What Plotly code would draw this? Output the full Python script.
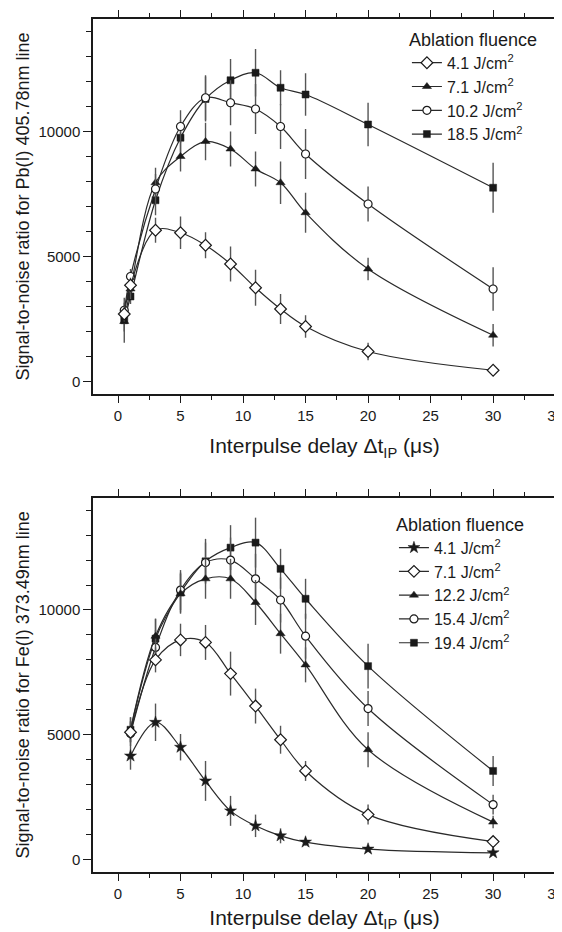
import plotly.graph_objects as go

# ---------------- data: Pb(I) 405.78 nm ----------------
x_pb = [0.5, 1, 3, 5, 7, 9, 11, 13, 15, 20, 30]
pb_41 = [2700, 3850, 6050, 5950, 5450, 4700, 3750, 2900, 2200, 1200, 450]
pb_41_err = [300, 300, 500, 650, 520, 700, 720, 600, 450, 350, 150]
pb_71 = [2400, 3700, 7950, 9000, 9600, 9300, 8500, 7950, 6750, 4500, 1850]
pb_71_err = [400, 400, 600, 600, 750, 700, 700, 850, 800, 450, 450]
pb_102 = [2850, 4200, 7700, 10200, 11350, 11150, 10900, 10200, 9100, 7100, 3700]
pb_102_err = [300, 300, 600, 650, 900, 900, 1000, 900, 1000, 700, 870]
pb_185 = [2450, 3400, 7250, 9750, 11300, 12050, 12350, 11750, 11480, 10280, 7750]
pb_185_err = [900, 300, 600, 700, 900, 850, 950, 700, 850, 870, 1000]
pb_labels = ["4.1 J/cm<sup>2</sup>", "7.1 J/cm<sup>2</sup>", "10.2 J/cm<sup>2</sup>", "18.5 J/cm<sup>2</sup>"]

# ---------------- data: Fe(I) 373.49 nm ----------------
x_fe = [1, 3, 5, 7, 9, 11, 13, 15, 20, 30]
fe_41 = [4150, 5500, 4500, 3150, 1950, 1350, 950, 700, 420, 270]
fe_41_err = [550, 750, 530, 800, 600, 450, 300, 150, 120, 100]
fe_71 = [5100, 8000, 8800, 8700, 7450, 6150, 4800, 3550, 1800, 720]
fe_71_err = [400, 500, 650, 700, 880, 700, 560, 400, 400, 150]
fe_122 = [5200, 8950, 10650, 11250, 11250, 10300, 9050, 7800, 4400, 1500]
fe_122_err = [500, 700, 800, 800, 800, 900, 800, 700, 700, 250]
fe_154 = [5050, 8500, 10800, 11900, 12000, 11250, 10400, 8950, 6050, 2200]
fe_154_err = [500, 700, 800, 800, 900, 1000, 900, 900, 700, 400]
fe_194 = [5200, 8850, 10700, 11950, 12500, 12700, 11650, 10450, 7750, 3550]
fe_194_err = [500, 800, 800, 900, 900, 1000, 800, 800, 900, 600]
fe_labels = ["4.1 J/cm<sup>2</sup>", "7.1 J/cm<sup>2</sup>", "12.2 J/cm<sup>2</sup>",
             "15.4 J/cm<sup>2</sup>", "19.4 J/cm<sup>2</sup>"]

FONT = "Liberation Sans, Arial, sans-serif"
INK = "#1a1a1a"
LINE = "#2a2a2a"
ERR = "#555555"

OPEN = dict(color="white", line=dict(color=INK, width=1.2))
FILL = dict(color=INK, line=dict(color=INK, width=0.5))

fig = go.Figure()


def add(x, y, err, name, symbol, style, size, xa, ya, legend, rank):
    fig.add_trace(go.Scatter(
        x=x, y=y, name=name, mode="lines+markers",
        line=dict(color=LINE, width=1.2, shape="spline", smoothing=1.0),
        marker=dict(symbol=symbol, size=size, color=style["color"], line=style["line"]),
        error_y=dict(type="data", array=err, visible=True, color=ERR, thickness=1.4, width=0),
        xaxis=xa, yaxis=ya, legend=legend, legendrank=rank,
    ))


# top panel (draw filled squares first so the open circle stays on top)
add(x_pb, pb_185, pb_185_err, pb_labels[3], "square", FILL, 7, "x", "y", "legend", 4)
add(x_pb, pb_71, pb_71_err, pb_labels[1], "triangle-up", FILL, 8, "x", "y", "legend", 2)
add(x_pb, pb_102, pb_102_err, pb_labels[2], "circle", OPEN, 8, "x", "y", "legend", 3)
add(x_pb, pb_41, pb_41_err, pb_labels[0], "diamond", OPEN, 9, "x", "y", "legend", 1)

# bottom panel
add(x_fe, fe_194, fe_194_err, fe_labels[4], "square", FILL, 7, "x2", "y2", "legend2", 5)
add(x_fe, fe_154, fe_154_err, fe_labels[3], "circle", OPEN, 8, "x2", "y2", "legend2", 4)
add(x_fe, fe_122, fe_122_err, fe_labels[2], "triangle-up", FILL, 8, "x2", "y2", "legend2", 3)
add(x_fe, fe_71, fe_71_err, fe_labels[1], "diamond", OPEN, 9, "x2", "y2", "legend2", 2)
add(x_fe, fe_41, fe_41_err, fe_labels[0], "star", FILL, 9, "x2", "y2", "legend2", 1)


def xax(anchor):
    return dict(
        domain=[0, 1], anchor=anchor, range=[-2, 35.03], tickmode="linear", tick0=0, dtick=5,
        ticks="outside", ticklen=7, tickwidth=1.3, tickcolor=INK, ticklabeloverflow="allow",
        minor=dict(dtick=2.5, tick0=0, ticks="outside", ticklen=4, tickwidth=1.1, tickcolor=INK),
        showline=True, linecolor=INK, linewidth=1.5, mirror="ticks",
        showgrid=False, zeroline=False, automargin=False,
        tickfont=dict(family=FONT, size=15, color=INK),
        title=dict(text="Interpulse delay \u0394t<sub>IP</sub> (\u03bcs)",
                   font=dict(family=FONT, size=21, color=INK), standoff=16),
    )


def yax(domain, anchor, text):
    return dict(
        domain=domain, anchor=anchor, range=[-500, 14500], tickmode="linear", tick0=0, dtick=5000,
        tickformat="d",
        ticks="outside", ticklen=8, tickwidth=1.3, tickcolor=INK,
        minor=dict(dtick=1000, tick0=0, ticks="outside", ticklen=5, tickwidth=1.1, tickcolor=INK),
        showline=True, linecolor=INK, linewidth=1.5, mirror="ticks",
        showgrid=False, zeroline=False, automargin=False,
        tickfont=dict(family=FONT, size=15, color=INK),
        title=dict(text=text, font=dict(family=FONT, size=18, color=INK), standoff=4),
    )


legend_common = dict(
    xanchor="left", yanchor="top", bgcolor="rgba(0,0,0,0)", borderwidth=0,
    font=dict(family=FONT, size=16, color=INK), itemsizing="trace",
    title=dict(font=dict(family=FONT, size=18, color=INK)), tracegroupgap=0,
)

# the page body adds an 8px offset, so the figure is 8px smaller and margins shifted
fig.update_layout(
    width=554, height=924, autosize=False,
    margin=dict(l=85, r=6, t=11, b=60),
    paper_bgcolor="white", plot_bgcolor="white",
    font=dict(family=FONT, color=INK),
    xaxis=xax("y"),
    yaxis=yax([0.5604, 1.0], "x", "Signal-to-noise ratio for Pb(I) 405.78nm line"),
    xaxis2=xax("y2"),
    yaxis2=yax([0.0, 0.4388], "x2", "Signal-to-noise ratio for Fe(I) 373.49nm line"),
    legend=dict(x=0.678, y=0.996, title_text="Ablation fluence", **legend_common),
    legend2=dict(x=0.65, y=0.4276, title_text="Ablation fluence", **legend_common),
    showlegend=True,
)

fig.write_html("out.html")
